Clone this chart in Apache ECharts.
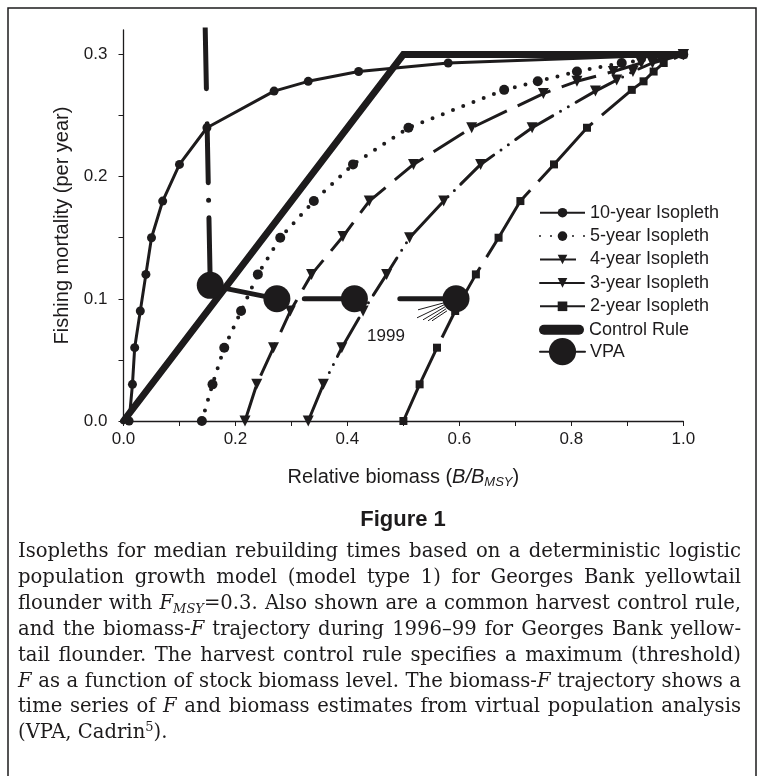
<!DOCTYPE html>
<html><head><meta charset="utf-8">
<script src="https://cdn.jsdelivr.net/npm/echarts@6/dist/echarts.min.js"></script>
<style>html,body{margin:0;padding:0;background:#fff}#c{width:764px;height:776px}</style>
</head><body><div id="c"></div>
<script>
// ---------- data ----------
const seriesNames = ['10-year Isopleth','5-year Isopleth','4-year Isopleth','3-year Isopleth','2-year Isopleth','Control Rule','VPA'];
// [relative biomass B/Bmsy, fishing mortality F]
const iso10 = [[0.01,0],[0.016,0.03],[0.02,0.06],[0.03,0.09],[0.04,0.12],[0.05,0.15],[0.07,0.18],[0.10,0.21],[0.149,0.24],[0.269,0.27],[0.33,0.278],[0.42,0.286],[0.58,0.293],[1.0,0.3]];
const iso5  = [[0.14,0],[0.159,0.03],[0.18,0.06],[0.21,0.09],[0.24,0.12],[0.28,0.15],[0.34,0.18],[0.41,0.21],[0.509,0.24],[0.68,0.271],[0.74,0.278],[0.81,0.286],[0.89,0.293],[1.0,0.3]];
const iso4  = [[0.217,0],[0.238,0.03],[0.268,0.06],[0.298,0.09],[0.336,0.12],[0.392,0.151],[0.439,0.18],[0.518,0.21],[0.622,0.24],[0.75,0.268],[0.81,0.278],[0.875,0.286],[0.925,0.293],[1.0,0.3]];
const iso3  = [[0.33,0],[0.357,0.03],[0.39,0.06],[0.428,0.09],[0.47,0.12],[0.511,0.15],[0.572,0.18],[0.638,0.21],[0.73,0.24],[0.843,0.27],[0.881,0.279],[0.91,0.286],[0.945,0.293],[1.0,0.3]];
const iso2  = [[0.5,0],[0.529,0.03],[0.56,0.06],[0.5925,0.09],[0.6295,0.12],[0.67,0.15],[0.709,0.18],[0.769,0.21],[0.828,0.24],[0.908,0.271],[0.929,0.278],[0.947,0.286],[0.965,0.293],[1.0,0.3]];
const controlRule = [[0,0],[0.5,0.3],[1.0,0.3]];
const vpa = [[0.134,0.6],[0.155,0.111],[0.274,0.1],[0.4125,0.1],[0.594,0.1]];
const vpaLabel = '1999';
const xTickValues = [0,0.1,0.2,0.3,0.4,0.5,0.6,0.7,0.8,0.9,1.0];
const xLabelValues = [0,0.2,0.4,0.6,0.8,1.0];
const yTickValues = [0,0.05,0.1,0.15,0.2,0.25,0.3];
const yLabelValues = [0,0.1,0.2,0.3];
const xTitle = '{n|Relative biomass (}{i|B/B}{sub|MSY}{n|)}';
const yTitle = 'Fishing mortality (per year)';
const figTitle = 'Figure 1';
const captionLines = [
 'Isopleths for median rebuilding times based on a deterministic logistic',
 'population growth model (model type 1) for Georges Bank yellowtail',
 'flounder with {i|F}{sub|MSY}{n|=0.3.} Also shown are a common harvest control rule,',
 'and the biomass-{i|F} trajectory during 1996–99 for Georges Bank yellow-',
 'tail flounder. The harvest control rule specifies a maximum (threshold)',
 '{i|F} as a function of stock biomass level. The biomass-{i|F} trajectory shows a',
 'time series of {i|F} and biomass estimates from virtual population analysis',
 '(VPA, Cadrin{sup|5}{n|).}'
];

// ---------- styling ----------
const ink = '#1d1b1c';
const sans = '"Liberation Sans", Arial, sans-serif';
const serif = '"DejaVu Serif", "Liberation Serif", serif';

const chart = echarts.init(document.getElementById('c'), null, {renderer:'canvas'});

// dash pattern of the VPA trajectory line (long dashes with one dot), measured along the path
const vpaDash = [401, 35, 59, 17.5, 0, 17.5, 134.5, 28.5, 53.5, 42, 80, 10];

const seriesData = [iso10, iso5, iso4, iso3, iso2, controlRule, vpa];
const seriesStyle = [
  {symbol:'circle', symbolSize:9, lineStyle:{width:3}},
  {symbol:'circle', symbolSize:10, lineStyle:{width:4, type:[0,11], cap:'round'}},
  {symbol:'triangle', symbolRotate:180, symbolSize:11, lineStyle:{width:3, type:[36,12]}},
  {symbol:'triangle', symbolRotate:180, symbolSize:11, lineStyle:{width:3, type:[44,9,0,9,0,9], cap:'round'}},
  {symbol:'rect', symbolSize:8, lineStyle:{width:3, type:[80,12]}},
  {symbol:'none', lineStyle:{width:7, cap:'round', join:'miter'}},
  {symbol:'circle', symbolSize:27, lineStyle:{width:5, type:vpaDash, cap:'round'}}
];

const series = seriesNames.map((name, i) => Object.assign({
  name, type:'line', data: seriesData[i], z: 2 + i,
  itemStyle:{color:ink}, clip:true, silent:true,
  emphasis:{disabled:true}
}, seriesStyle[i], {lineStyle: Object.assign({color:ink}, seriesStyle[i].lineStyle)}));

// one legend block per row so every row can have its own icon size
const legendIconH = [12,12,12,12,12,11,34];
const legendFont = 18;
const legends = seriesNames.map((name, i) => {
  const h = legendIconH[i];
  const center = 212.7 + i * 23.4;
  const item = name === 'Control Rule'
    ? {name, icon:'path://M5 0H40A5 5 0 0 1 40 10H5A5 5 0 0 1 5 0Z'}
    : {name};
  return {
    data:[item], orient:'vertical', left:539, top: center - Math.max(h,legendFont)/2 + (h > legendFont ? 2 : 0),
    itemWidth:45, itemHeight:h, padding:0, itemGap:0, selectedMode:false,
    textStyle:{fontSize:legendFont, fontFamily:sans, color:ink}
  };
});

const option = {
  animation:false,
  backgroundColor:'#fff',
  grid:{left:123.5, right:80.7, top:30, bottom:355, containLabel:false},
  xAxis:{
    type:'value', min:0, max:1, interval:0.1,
    axisLine:{lineStyle:{color:ink, width:1.3}},
    axisTick:{show:true, inside:false, length:5, lineStyle:{color:ink, width:1}, customValues:xTickValues},
    axisLabel:{customValues:xLabelValues, formatter:v=>v.toFixed(1), fontSize:17, fontFamily:sans, color:ink, margin:10},
    splitLine:{show:false},
    name: xTitle, nameLocation:'middle', nameGap:44,
    nameTextStyle:{fontSize:20, fontFamily:sans, color:ink,
      rich:{n:{fontSize:20, lineHeight:24, fontFamily:sans, color:ink},
            i:{fontSize:20, lineHeight:24, fontStyle:'italic', fontFamily:sans, color:ink},
            sub:{fontSize:13, lineHeight:13, fontStyle:'italic', verticalAlign:'bottom', fontFamily:sans, color:ink}}}
  },
  yAxis:{
    type:'value', min:0, max:0.32,
    axisLine:{show:true, lineStyle:{color:ink, width:1.3}},
    axisTick:{show:true, inside:false, length:5, lineStyle:{color:ink, width:1}, customValues:yTickValues},
    axisLabel:{customValues:yLabelValues, formatter:v=>v.toFixed(1), fontSize:17, fontFamily:sans, color:ink, margin:16},
    splitLine:{show:false},
    name: yTitle, nameLocation:'middle', nameGap:50,
    nameTextStyle:{fontSize:20, fontFamily:sans, color:ink}
  },
  legend: legends,
  series
};
chart.setOption(option);

// ---------- graphic: border, 1999 annotation, figure caption ----------
const elements = [];
elements.push({type:'rect', shape:{x:8, y:8, width:748, height:775}, style:{fill:null, stroke:ink, lineWidth:1.5}, silent:true, z:0});

const p = chart.convertToPixel({gridIndex:0}, vpa[vpa.length-1]);
elements.push({type:'text', x:p[0]-70, y:p[1]+37, style:{text:vpaLabel, font:'17px '+sans, fill:ink, align:'center', verticalAlign:'middle'}, z:20});
const fanStart = [[-38,11],[-39,19],[-33,21],[-28,22],[-24,22]];
const fanEnd = [[-12,4],[-12,6],[-11,8],[-10,10],[-9,12]];
fanStart.forEach((s,k)=>{
  elements.push({type:'line', shape:{x1:p[0]+s[0], y1:p[1]+s[1], x2:p[0]+fanEnd[k][0], y2:p[1]+fanEnd[k][1]}, style:{stroke:ink, lineWidth:1}, z:20});
});

elements.push({type:'text', x:403, y:520, style:{text:figTitle, font:'bold 22px "Liberation Sans Narrow", '+sans, fill:ink, align:'center', verticalAlign:'middle'}, z:20});

// justified caption; font size chosen so the widest line fits the text block
const capLeft = 18, capRight = 741;
const ctx = document.createElement('canvas').getContext('2d');
function runs(word){
  const out = []; const re = /\{(\w+)\|([^}]*)\}|([^{]+)/g; let m;
  while((m = re.exec(word))){ if(m[3]) out.push(['n', m[3]]); else out.push([m[1], m[2]]); }
  return out;
}
function styleFor(s, size){
  return {n:{italic:false, size}, i:{italic:true, size}, sub:{italic:true, size:Math.round(size*0.66)}, sup:{italic:false, size:Math.round(size*0.66)}}[s];
}
function wordWidth(word, size){
  return runs(word).reduce((w,[s,t])=>{
    const st = styleFor(s, size);
    ctx.font = (st.italic?'italic ':'') + st.size + 'px ' + serif;
    return w + ctx.measureText(t).width;
  },0);
}
function natural(line, size){
  ctx.font = size+'px '+serif; const sp = ctx.measureText(' ').width;
  const ws = line.split(' ');
  return ws.reduce((a,w)=>a+wordWidth(w,size),0) + sp*(ws.length-1);
}
const baseSize = 20;
const widest = Math.max(...captionLines.slice(0,-1).map(l=>natural(l, baseSize)));
const capSize = Math.floor(baseSize * (capRight - capLeft - 4) / widest * 10) / 10;
const subSize = Math.round(capSize*0.66);
const rich = {
  n:{fontSize:capSize, fontFamily:serif, lineHeight:24, fill:ink},
  i:{fontSize:capSize, fontFamily:serif, fontStyle:'italic', lineHeight:24, fill:ink},
  sub:{fontSize:subSize, fontFamily:serif, fontStyle:'italic', lineHeight:subSize, verticalAlign:'bottom', fill:ink},
  sup:{fontSize:subSize, fontFamily:serif, lineHeight:subSize, verticalAlign:'top', fill:ink}
};
ctx.font = capSize+'px '+serif;
const spaceW = ctx.measureText(' ').width;
captionLines.forEach((line, li) => {
  const words = line.split(' ');
  const widths = words.map(w=>wordWidth(w, capSize));
  const total = widths.reduce((a,b)=>a+b,0);
  const last = li === captionLines.length - 1;
  const gap = (last || words.length < 2) ? spaceW : (capRight - capLeft - total) / (words.length - 1);
  let x = capLeft;
  const y = 552 + li * 25.9;
  words.forEach((w,k)=>{
    elements.push({type:'text', x, y, style:{text:w, rich, fontSize:capSize, fontFamily:serif, lineHeight:24, fill:ink, align:'left', verticalAlign:'middle'}, z:20});
    x += widths[k] + gap;
  });
});

chart.setOption({graphic:{elements}});
</script></body></html>
